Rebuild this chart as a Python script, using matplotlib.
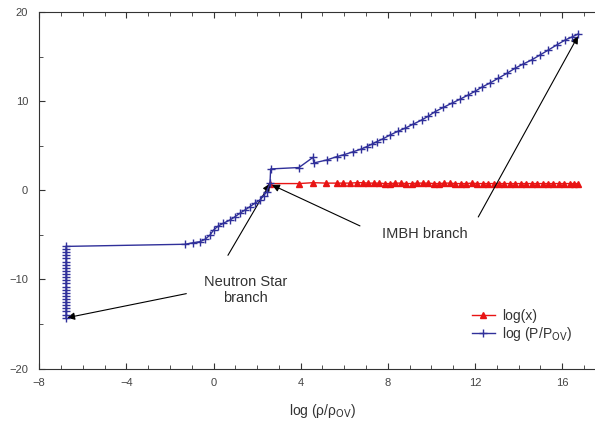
import matplotlib
matplotlib.use("Agg")
import matplotlib.pyplot as plt
from matplotlib.ticker import MultipleLocator

plt.rcParams['font.family'] = ['Liberation Sans', 'DejaVu Sans']

# log(P/P_OV) series
p_x = [-6.77] * 24 + [
    -1.31, -0.93, -0.62, -0.39, -0.16, 0.0, 0.22, 0.45, 0.76, 0.99, 1.2, 1.45,
    1.67, 1.9, 2.13, 2.3, 2.44, 2.59,
    2.62, 3.92, 4.57, 4.6, 5.2, 5.65, 6.0, 6.42, 6.75, 7.03, 7.25, 7.49, 7.8,
    8.1, 8.45, 8.79, 9.15, 9.56, 9.85, 10.17, 10.55, 10.93, 11.3, 11.7, 12.0,
    12.31, 12.7, 13.07, 13.45, 13.84, 14.2, 14.6, 15.0, 15.37, 15.75, 16.14,
    16.45, 16.75]
p_y = [-14.3, -13.95, -13.6, -13.25, -12.9, -12.55, -12.2, -11.85, -11.5,
       -11.15, -10.8, -10.45, -10.1, -9.75, -9.4, -9.05, -8.7, -8.35, -8.0,
       -7.65, -7.3, -6.95, -6.6, -6.3] + [
    -6.06, -5.88, -5.77, -5.5, -5.02, -4.46, -4.0, -3.7, -3.33, -2.96, -2.6, -2.2,
    -1.84, -1.45, -1.09, -0.6, -0.16, 0.79,
    2.39, 2.55, 3.7, 3.06, 3.4, 3.77, 4.0, 4.33, 4.6, 4.89, 5.15, 5.45, 5.8,
    6.2, 6.6, 6.96, 7.4, 7.89, 8.3, 8.82, 9.3, 9.76, 10.2, 10.7, 11.1,
    11.56, 12.05, 12.57, 13.1, 13.69, 14.15, 14.62, 15.2, 15.74, 16.3, 16.86,
    17.2, 17.55]

# log(x) series
x_x = [2.59, 3.92, 4.57, 5.17, 5.65, 5.95, 6.27, 6.58, 6.85, 7.1, 7.35, 7.6,
       7.85, 8.1, 8.35, 8.6, 8.85, 9.1, 9.35, 9.6, 9.85, 10.1, 10.35, 10.6,
       10.85, 11.1, 11.35, 11.6, 11.85, 12.1, 12.35, 12.6, 12.85, 13.1, 13.35,
       13.6, 13.85, 14.1, 14.35, 14.6, 14.85, 15.1, 15.35, 15.6, 15.85, 16.1,
       16.35, 16.55, 16.75]
x_y = [0.75, 0.75, 0.85, 0.8, 0.8, 0.8, 0.8, 0.85, 0.85, 0.8, 0.8, 0.8,
       0.75, 0.75, 0.8, 0.8, 0.75, 0.75, 0.8, 0.8, 0.8, 0.75, 0.75, 0.8,
       0.8, 0.75, 0.75, 0.75, 0.8, 0.75, 0.75, 0.75, 0.75, 0.75, 0.75,
       0.75, 0.75, 0.75, 0.75, 0.75, 0.75, 0.75, 0.75, 0.75, 0.75, 0.75,
       0.75, 0.75, 0.75]

x_ticks = [-8, -4, 0, 4, 8, 12, 16]
y_ticks = [-20, -10, 0, 10, 20]

fig = plt.figure(figsize=(5.95, 4.21), dpi=100)
ax = fig.add_axes([0.066, 0.1247, 0.952, 0.8468])

blue = '#30309a'
red = '#e81414'
ax.plot(x_x, x_y, color=red, lw=1.0, marker='^', ms=4.5, mec=red, mfc=red,
        label='log(x)', zorder=3)
ax.plot(p_x, p_y, color=blue, lw=1.0, marker='+', ms=6, mew=1.0,
        label='log (P/P$_{\\rm OV}$)', zorder=4)

ax.set_xlim(-8, 18)
ax.set_ylim(-20, 20)
ax.set_xticks(x_ticks)
ax.set_yticks(y_ticks)
ax.xaxis.set_minor_locator(MultipleLocator(1))
ax.yaxis.set_minor_locator(MultipleLocator(5))
ax.tick_params(which='both', direction='in', labelsize=8, labelcolor='#444444',
               color='#333333', top=True)
ax.tick_params(which='major', length=4)
ax.tick_params(which='minor', length=3)
ax.tick_params(axis='x', which='major', pad=7)
ax.tick_params(axis='y', which='major', pad=8)
for s in ['left', 'bottom', 'top']:
    ax.spines[s].set_color('#333333')
ax.spines['right'].set_visible(False)

ax.set_xlabel('log (ρ/ρ$_{\\rm OV}$)', fontsize=10, color='#333333',
              labelpad=10)

arrow = dict(arrowstyle='-|>', color='black', lw=0.8, mutation_scale=11,
             shrinkA=0, shrinkB=0)
ax.text(1.45, -11.2, 'Neutron Star\nbranch', ha='center', va='center',
        fontsize=10.5, color='#333333', linespacing=1.25)
ax.annotate('', xy=(-6.72, -14.3), xytext=(-1.25, -11.6), arrowprops=arrow)
ax.annotate('', xy=(2.59, 0.75), xytext=(0.66, -7.3), arrowprops=arrow)
ax.text(9.7, -4.9, 'IMBH branch', ha='center', va='center',
        fontsize=10.5, color='#333333')
ax.annotate('', xy=(2.68, 0.6), xytext=(6.72, -4.0), arrowprops=arrow)
ax.annotate('', xy=(16.73, 17.3), xytext=(12.15, -3.0), arrowprops=arrow)

leg = ax.legend(loc='center left', bbox_to_anchor=(0.741, 0.12),
                frameon=False, fontsize=10, handlelength=1.7,
                handletextpad=0.5, labelspacing=0.15, labelcolor='#333333')

fig.savefig('out.png', dpi=100)
